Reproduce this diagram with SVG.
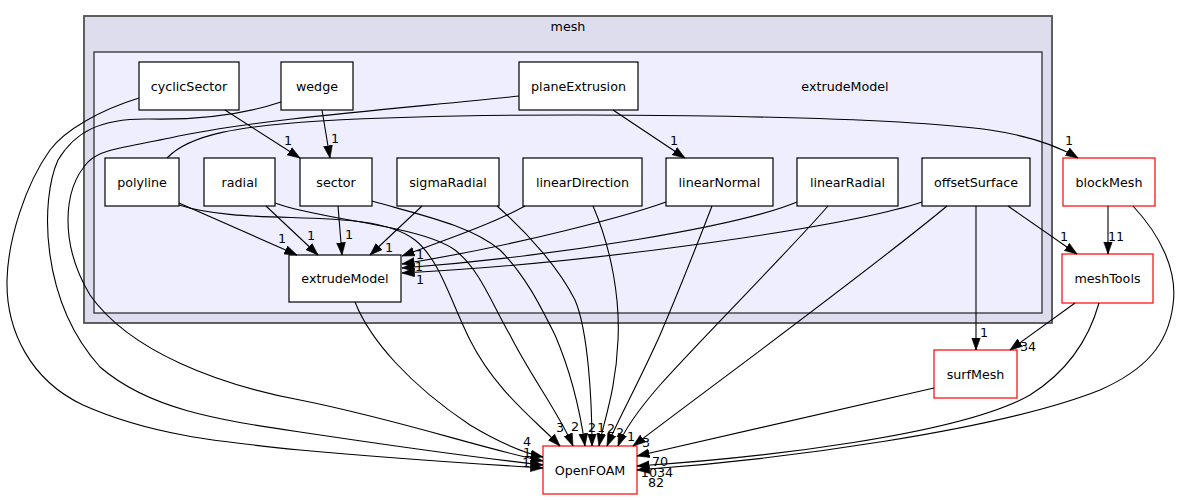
<svg xmlns="http://www.w3.org/2000/svg" width="1180" height="500" viewBox="0 0 1180 500">
<defs>
<marker id="a" markerWidth="14" markerHeight="10" refX="12.5" refY="5" orient="auto" markerUnits="userSpaceOnUse"><path d="M0,0.6 L12.5,5 L0,9.4 z" fill="#000" stroke="#000" stroke-width="0.6"/></marker>
<style>
text{font-family:"DejaVu Sans","Noto Sans",sans-serif;font-size:12.7px;fill:#000}
.n rect{fill:#fff;stroke:#000;stroke-width:1.2}
.r rect{stroke:#ff0000}
.n text,.c text,.l text{text-anchor:middle}
.e path{fill:none;stroke:#000;stroke-width:1.1;marker-end:url(#a)}
</style>
</defs>
<rect width="1180" height="500" fill="#fff"/>
<g id="cluster_mesh" class="c">
<rect x="84" y="16" width="968" height="307" fill="#ddddee" stroke="#505050" stroke-width="1.8"/>
<text x="568" y="31">mesh</text>
</g>
<g id="cluster_extrudeModel" class="c">
<rect x="94" y="52" width="948" height="261" fill="#eeeeff" stroke="#303030" stroke-width="1.3"/>
<text x="845" y="90.5">extrudeModel</text>
</g>
<g id="cyclicSector" class="n"><rect x="139" y="62" width="100" height="48"/><text x="189" y="90.5">cyclicSector</text></g>
<g id="wedge" class="n"><rect x="281" y="62" width="72" height="48"/><text x="317" y="90.5">wedge</text></g>
<g id="planeExtrusion" class="n"><rect x="519" y="62" width="119" height="48"/><text x="578.5" y="90.5">planeExtrusion</text></g>
<g id="polyline" class="n"><rect x="105" y="158" width="74" height="48"/><text x="142" y="186.5">polyline</text></g>
<g id="radial" class="n"><rect x="204" y="158" width="71" height="48"/><text x="239.5" y="186.5">radial</text></g>
<g id="sector" class="n"><rect x="300" y="158" width="72" height="48"/><text x="336" y="186.5">sector</text></g>
<g id="sigmaRadial" class="n"><rect x="397" y="158" width="102" height="48"/><text x="448" y="186.5">sigmaRadial</text></g>
<g id="linearDirection" class="n"><rect x="523" y="158" width="119" height="48"/><text x="582.5" y="186.5">linearDirection</text></g>
<g id="linearNormal" class="n"><rect x="666" y="158" width="107" height="48"/><text x="719.5" y="186.5">linearNormal</text></g>
<g id="linearRadial" class="n"><rect x="797" y="158" width="101" height="48"/><text x="847.5" y="186.5">linearRadial</text></g>
<g id="offsetSurface" class="n"><rect x="922" y="158" width="108" height="48"/><text x="976" y="186.5">offsetSurface</text></g>
<g id="blockMesh" class="n r"><rect x="1063" y="158" width="92" height="48"/><text x="1109" y="186.5">blockMesh</text></g>
<g id="extrudeModel" class="n"><rect x="289" y="255" width="112" height="47"/><text x="345" y="283">extrudeModel</text></g>
<g id="meshTools" class="n r"><rect x="1062" y="254" width="91" height="49"/><text x="1107.5" y="283">meshTools</text></g>
<g id="surfMesh" class="n r"><rect x="934" y="350" width="83" height="48"/><text x="975.5" y="378.5">surfMesh</text></g>
<g id="OpenFOAM" class="n r"><rect x="543" y="446" width="94" height="48"/><text x="590" y="474.5">OpenFOAM</text></g>
<g id="connectors" class="e">
<path d="M225,110 L300,158"/>
<path d="M322,110 L330,158"/>
<path d="M613,110 L685,158"/>
<path d="M167,158 C190,134 240,126 320,121 C520,110 880,115 990,130 C1030,136 1058,146 1078,158"/>
<path d="M519,96 C420,107 260,118 170,138 C120,148 100,150 88,162 C62,190 60,245 90,295 C130,352 220,385 300,400 C400,420 480,448 543,461"/>
<path d="M281,102 C245,114 200,120 150,119 C100,118 75,132 58,160 C40,200 40,300 100,367 C150,410 220,420 300,432 C400,447 480,458 543,465"/>
<path d="M139,98 C100,110 65,130 50,150 C25,185 8,240 7,280 C6,330 30,380 83,405 C150,435 220,442 300,450 C400,459 480,464 543,468"/>
<path d="M355,302 C370,340 410,385 470,425 C495,440 520,452 543,457"/>
<path d="M179,203 L297,255"/>
<path d="M266,206 L318,255"/>
<path d="M338,206 L342,255"/>
<path d="M422,206 L370,255"/>
<path d="M525,206 C490,225 445,240 402,256"/>
<path d="M666,202 C630,215 520,245 402,264"/>
<path d="M797,202 C740,226 560,256 402,268"/>
<path d="M922,202 C850,226 600,263 402,273"/>
<path d="M179,205 C250,228 370,205 415,240 C440,260 450,300 470,340 C495,390 535,420 560,446"/>
<path d="M275,203 C320,220 420,225 455,250 C480,270 490,300 510,335 C530,375 560,415 573,446"/>
<path d="M372,201 C420,215 470,225 500,250 C525,275 540,305 555,335 C570,370 580,410 585,446"/>
<path d="M497,206 C530,235 560,270 575,300 C588,330 592,400 592,446"/>
<path d="M593,206 C612,250 620,300 618,340 C616,390 604,420 599,446"/>
<path d="M712,206 C695,250 675,300 660,335 C640,380 618,420 607,446"/>
<path d="M828,206 C790,250 700,340 660,385 C640,408 625,428 618,446"/>
<path d="M947,206 C870,270 720,380 633,446"/>
<path d="M976,206 L976,350"/>
<path d="M1008,206 L1077,254"/>
<path d="M1108,206 L1108,254"/>
<path d="M1075,303 L1010,350"/>
<path d="M934,388 L637,456"/>
<path d="M1099,303 C1090,335 1070,370 1030,395 C960,435 760,458 637,466"/>
<path d="M1133,206 C1160,235 1178,270 1173,305 C1168,345 1145,370 1100,390 C1000,430 780,460 637,470"/>
</g>
<g id="edge-labels" class="l">
<text x="288" y="145">1</text>
<text x="335" y="143">1</text>
<text x="674" y="145">1</text>
<text x="1069" y="145">1</text>
<text x="1064" y="241">1</text>
<text x="1116" y="241">11</text>
<text x="984" y="337">1</text>
<text x="1028" y="351">34</text>
<text x="282" y="243">1</text>
<text x="311" y="240">1</text>
<text x="349" y="239">1</text>
<text x="389" y="252">1</text>
<text x="420" y="259">1</text>
<text x="419" y="271">1</text>
<text x="420" y="284">1</text>
<text x="527" y="446">4</text>
<text x="527" y="457">1</text>
<text x="526" y="467">1</text>
<text x="560" y="432">3</text>
<text x="575" y="431">2</text>
<text x="592" y="432">2</text>
<text x="601" y="432">1</text>
<text x="611" y="433">2</text>
<text x="620" y="437">2</text>
<text x="631" y="441">1</text>
<text x="646" y="447">3</text>
<text x="660" y="466">70</text>
<text x="657" y="477">1034</text>
<text x="656" y="487">82</text>
</g>
</svg>
